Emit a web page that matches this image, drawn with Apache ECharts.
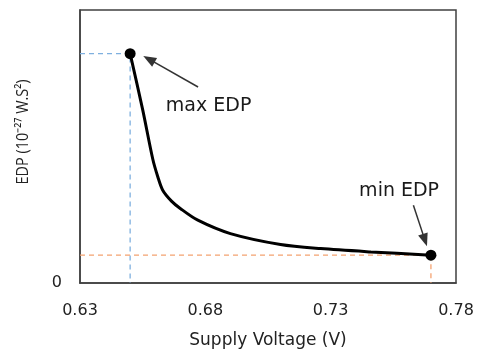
<!DOCTYPE html>
<html><head><meta charset="utf-8">
<script src="https://cdn.jsdelivr.net/npm/echarts@6/dist/echarts.min.js"></script>
<style>html,body{margin:0;padding:0;background:#fff}#c{width:480px;height:356px}</style>
</head><body><div id="c"></div>
<script>
// Curve data (Supply Voltage in V, EDP in arbitrary units of 10^-27 W.S^2)
var voltage = [0.650, 0.655, 0.659, 0.661, 0.663, 0.6665, 0.670, 0.677, 0.690, 0.710, 0.726, 0.746, 0.770];
var edp     = [8.40, 6.35, 4.55, 3.90, 3.40, 3.00, 2.73, 2.30, 1.81, 1.41, 1.26, 1.14, 1.02];
var xTicks = [0.63, 0.68, 0.73, 0.78];
var xMin = 0.63, xMax = 0.78, xStep = 0.05;
var yMin = 0, yMax = 10;
var maxPt = [voltage[0], edp[0]];
var minPt = [voltage[voltage.length-1], edp[edp.length-1]];
// annotation anchors (data units)
var maxArrow = [[0.6771, 7.18], [0.6575, 8.20]];
var minArrow = [[0.7630, 2.85], [0.7676, 1.57]];
var maxLabel = [0.6813, 6.47, 'max EDP'];
var minLabel = [0.7573, 3.38, 'min EDP'];

var curve = voltage.map(function(v,i){return [v, edp[i]];});
var FONT = '"DejaVu Sans", sans-serif';

var chart = echarts.init(document.getElementById('c'), null, {renderer:'canvas'});
chart.setOption({
  animation:false,
  backgroundColor:'#fff',
  grid:{left:80, top:10, right:24, bottom:73, show:true, borderColor:'#404040', borderWidth:1.5, backgroundColor:'transparent'},
  xAxis:{type:'value', min:xMin, max:xMax, interval:xStep,
    name:'Supply Voltage (V)', nameLocation:'middle', nameGap:49,
    nameTextStyle:{fontFamily:FONT, fontSize:17, color:'#222'},
    axisLine:{show:true, lineStyle:{color:'#404040', width:1.5}},
    axisTick:{show:false}, splitLine:{show:false},
    axisLabel:{margin:20, fontFamily:FONT, fontSize:16, color:'#222',
      formatter:function(v){ return v.toFixed(2); }}
  },
  yAxis:{type:'value', min:yMin, max:yMax, interval:10,
    axisLine:{show:true, lineStyle:{color:'#404040', width:1.5}},
    axisTick:{show:false}, splitLine:{show:false},
    axisLabel:{margin:18, fontFamily:FONT, fontSize:16, color:'#222',
      formatter:function(v){ return v===0 ? '0' : ''; }}
  },
  graphic:[{type:'text', x:23, y:132, rotation:Math.PI/2, scaleX:0.85, style:{
    text:'EDP (10⁻²⁷ W.S²)', fontFamily:'"Open Sans", sans-serif', fontSize:17, fill:'#222',
    align:'center', verticalAlign:'middle'}}],
  series:[
    {type:'line', data:[[xMin, maxPt[1]], maxPt, [maxPt[0], yMin]], symbol:'none', silent:true,
      lineStyle:{color:'#7fb0df', width:1.3, type:[5,4]}, z:1},
    {type:'line', data:[[xMin, minPt[1]], minPt, [minPt[0], yMin]], symbol:'none', silent:true,
      lineStyle:{color:'#f4a270', width:1.3, type:[5,4]}, z:1},
    {type:'line', data:curve, smooth:0.3, symbol:'none',
      lineStyle:{color:'#000', width:3}, z:3,
      markLine:{silent:true, animation:false, label:{show:false},
        lineStyle:{color:'#333', width:1.5, type:'solid'},
        symbol:['none','triangle'], symbolSize:[10,13],
        data:[
          [{coord:maxArrow[0]}, {coord:maxArrow[1]}],
          [{coord:minArrow[0]}, {coord:minArrow[1]}]
        ]}},
    {type:'scatter', data:[maxPt, minPt], symbol:'circle', symbolSize:11,
      itemStyle:{color:'#000', opacity:1}, z:4},
    {type:'scatter', data:[maxLabel, minLabel], symbolSize:0, z:5,
      itemStyle:{opacity:1},
      label:{show:true, position:'inside', formatter:function(p){return p.data[2];},
        fontFamily:FONT, fontSize:19, color:'#1a1a1a'}}
  ]
});
</script></body></html>
